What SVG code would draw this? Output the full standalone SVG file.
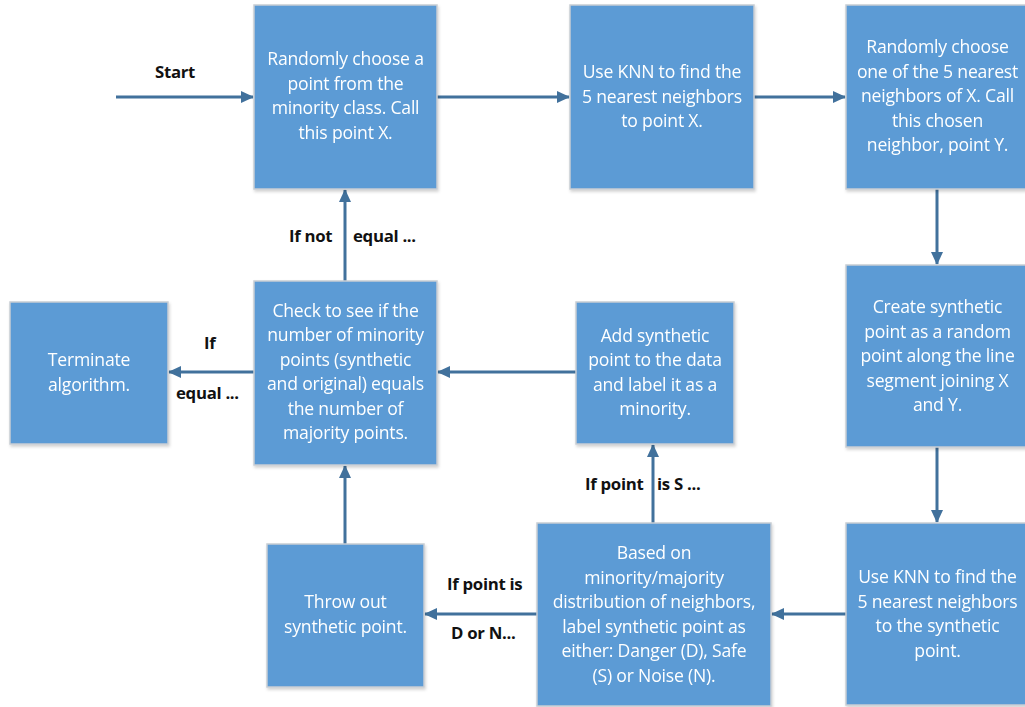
<svg xmlns="http://www.w3.org/2000/svg" width="1025" height="707" viewBox="0 0 1025 707">
<style>
.box{fill:#5B9BD5;stroke:#C8CDD3;stroke-width:1.5}
.t{font-family:"Open Sans","Liberation Sans",sans-serif;font-size:17.6px;fill:#FFFFFF;text-anchor:middle;letter-spacing:-0.2px}
.lbl{font-family:"Open Sans","Liberation Sans",sans-serif;font-size:16.8px;font-weight:bold;fill:#111111;letter-spacing:-0.3px}
.c{stroke:#41719C;stroke-width:3;fill:none;marker-end:url(#ah)}
</style>
<defs>
<marker id="ah" markerUnits="userSpaceOnUse" markerWidth="14" markerHeight="14" refX="12" refY="7" orient="auto">
<path d="M0,1 L13,7 L0,13 Z" fill="#41719C"/>
</marker>
<filter id="sh" x="-5%" y="-5%" width="115%" height="115%">
<feDropShadow dx="1" dy="2" stdDeviation="1.5" flood-color="#000" flood-opacity="0.18"/>
</filter>
</defs>
<rect width="1025" height="707" fill="#FFFFFF"/>
<g id="connectors">
<line class="c" x1="116" y1="97" x2="253" y2="97"/>
<line class="c" x1="437" y1="97" x2="569" y2="97"/>
<line class="c" x1="754" y1="97" x2="845" y2="97"/>
<line class="c" x1="937" y1="189" x2="937" y2="264"/>
<line class="c" x1="937" y1="447" x2="937" y2="522"/>
<line class="c" x1="846" y1="614" x2="772" y2="614"/>
<line class="c" x1="653" y1="523" x2="653" y2="445"/>
<line class="c" x1="537" y1="614" x2="425" y2="614"/>
<line class="c" x1="345" y1="544" x2="345" y2="466"/>
<line class="c" x1="576" y1="372" x2="438" y2="372"/>
<line class="c" x1="254" y1="372" x2="169" y2="372"/>
<line class="c" x1="345" y1="281" x2="345" y2="190"/>
<text class="lbl" x="155" y="78">Start</text>
<text class="lbl" x="289" y="242">If  not</text>
<text class="lbl" x="353" y="242">equal ...</text>
<text class="lbl" x="204" y="349">If</text>
<text class="lbl" x="176" y="399">equal ...</text>
<text class="lbl" x="585" y="490">If point</text>
<text class="lbl" x="657" y="490">is S ...</text>
<text class="lbl" x="447" y="590">If point is</text>
<text class="lbl" x="451" y="639">D or N...</text>
</g>
<g id="n1" filter="url(#sh)">
<rect class="box" x="254" y="5" width="183" height="184"/>
<text class="t" x="345.5" y="65">Randomly choose a</text>
<text class="t" x="345.5" y="89.5">point from the</text>
<text class="t" x="345.5" y="114">minority class. Call</text>
<text class="t" x="345.5" y="138.5">this point X.</text>
</g>
<g id="n2" filter="url(#sh)">
<rect class="box" x="570" y="5" width="184" height="184"/>
<text class="t" x="662" y="78">Use KNN to find the</text>
<text class="t" x="662" y="102.5">5 nearest neighbors</text>
<text class="t" x="662" y="127">to point X.</text>
</g>
<g id="n3" filter="url(#sh)">
<rect class="box" x="846" y="5" width="184" height="184"/>
<text class="t" x="937.5" y="53">Randomly choose</text>
<text class="t" x="937.5" y="77.5">one of the 5 nearest</text>
<text class="t" x="937.5" y="102">neighbors of X. Call</text>
<text class="t" x="937.5" y="126.5">this chosen</text>
<text class="t" x="937.5" y="151">neighbor, point Y.</text>
</g>
<g id="n4" filter="url(#sh)">
<rect class="box" x="846" y="265" width="184" height="182"/>
<text class="t" x="937.5" y="313">Create synthetic</text>
<text class="t" x="937.5" y="337.5">point as a random</text>
<text class="t" x="937.5" y="362">point along the line</text>
<text class="t" x="937.5" y="386.5">segment joining X</text>
<text class="t" x="937.5" y="411">and Y.</text>
</g>
<g id="n5" filter="url(#sh)">
<rect class="box" x="846" y="523" width="184" height="182"/>
<text class="t" x="937.5" y="583">Use KNN to find the</text>
<text class="t" x="937.5" y="607.5">5 nearest neighbors</text>
<text class="t" x="937.5" y="632">to the synthetic</text>
<text class="t" x="937.5" y="656.5">point.</text>
</g>
<g id="n6" filter="url(#sh)">
<rect class="box" x="537" y="523" width="234" height="183"/>
<text class="t" x="654" y="559">Based on</text>
<text class="t" x="654" y="583.5">minority/majority</text>
<text class="t" x="654" y="608">distribution of neighbors,</text>
<text class="t" x="654" y="632.5">label synthetic point as</text>
<text class="t" x="654" y="657">either: Danger (D), Safe</text>
<text class="t" x="654" y="681.5">(S) or Noise (N).</text>
</g>
<g id="n7" filter="url(#sh)">
<rect class="box" x="576" y="302" width="158" height="142"/>
<text class="t" x="655" y="341.5">Add synthetic</text>
<text class="t" x="655" y="366">point to the data</text>
<text class="t" x="655" y="390.5">and label it as a</text>
<text class="t" x="655" y="415">minority.</text>
</g>
<g id="n8" filter="url(#sh)">
<rect class="box" x="254" y="281" width="183" height="184"/>
<text class="t" x="345.5" y="316.5">Check to see if the</text>
<text class="t" x="345.5" y="341">number of minority</text>
<text class="t" x="345.5" y="365.5">points (synthetic</text>
<text class="t" x="345.5" y="390">and original) equals</text>
<text class="t" x="345.5" y="414.5">the number of</text>
<text class="t" x="345.5" y="439">majority points.</text>
</g>
<g id="n9" filter="url(#sh)">
<rect class="box" x="10" y="302" width="158" height="142"/>
<text class="t" x="89" y="366">Terminate</text>
<text class="t" x="89" y="390.5">algorithm.</text>
</g>
<g id="n10" filter="url(#sh)">
<rect class="box" x="267" y="544" width="157" height="143"/>
<text class="t" x="345.5" y="608">Throw out</text>
<text class="t" x="345.5" y="632.5">synthetic point.</text>
</g>
</svg>
